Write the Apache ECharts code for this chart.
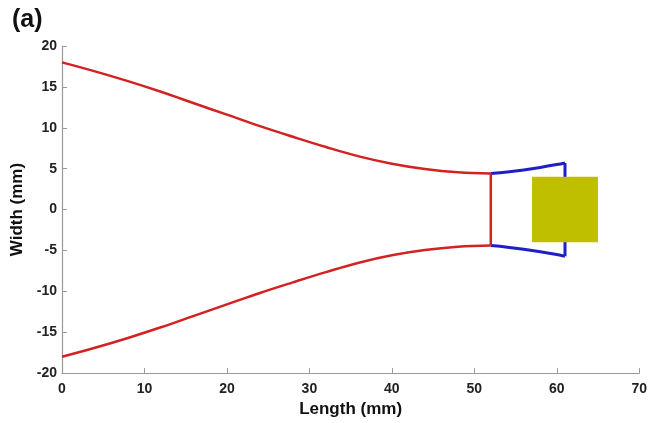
<!DOCTYPE html>
<html>
<head>
<meta charset="utf-8">
<script src="https://cdn.jsdelivr.net/npm/echarts@6/dist/echarts.min.js"></script>
<style>html,body{margin:0;padding:0;background:#fff}#c{width:650px;height:423px}</style>
</head>
<body>
<div id="c"></div>
<script>
// Horn profile (red) upper edge
const hornX = [0, 4, 8, 12, 16, 20, 24, 28, 32, 36, 40, 44, 48, 52];
const hornY = [18, 16.9, 15.7, 14.4, 13.0, 11.6, 10.2, 8.9, 7.65, 6.5, 5.6, 4.95, 4.55, 4.4];
// Flare section (blue) upper edge
const flareX = [52, 54, 56, 58, 60, 61];
const flareY = [4.4, 4.6, 4.85, 5.15, 5.5, 5.7];
// Sample block (yellow)
const blockX = [57, 65];
const blockY = [-4, 4];
const xTicks = [0, 10, 20, 30, 40, 50, 60, 70];
const yTicks = [-20, -15, -10, -5, 0, 5, 10, 15, 20];

const upper = hornX.map((x, i) => [x, hornY[i]]);
const lower = hornX.map((x, i) => [x, -hornY[i]]);
const fUp = flareX.map((x, i) => [x, flareY[i]]);
const fLo = flareX.map((x, i) => [x, -flareY[i]]);
const last = hornX.length - 1;
const fl = flareX.length - 1;

const red = '#d22222', blue = '#1f1fc8';
const FF = 'Liberation Sans, Arial, sans-serif';
const chart = echarts.init(document.getElementById('c'));
const labelStyle = { color: '#222', fontWeight: 'bold', fontSize: 14, fontFamily: FF };
chart.setOption({
  animation: false,
  title: { text: '(a)', left: 7, top: 3, textStyle: { fontSize: 25, fontWeight: 'bold', color: '#111', fontFamily: FF } },
  grid: { left: 62, right: 10, top: 46, bottom: 44, containLabel: false },
  xAxis: {
    type: 'value', min: xTicks[0], max: xTicks[xTicks.length - 1], interval: 10,
    name: 'Length (mm)', nameLocation: 'middle', nameGap: 26,
    nameTextStyle: { fontSize: 17, fontWeight: 'bold', color: '#111', fontFamily: FF },
    axisLine: { onZero: false, lineStyle: { color: '#999', width: 1.2 } },
    axisTick: { inside: true, length: 5, lineStyle: { color: '#999' } },
    axisLabel: Object.assign({ margin: 9 }, labelStyle),
    splitLine: { show: false }
  },
  yAxis: {
    type: 'value', min: yTicks[0], max: yTicks[yTicks.length - 1], interval: 5,
    name: 'Width (mm)', nameLocation: 'middle', nameGap: 34,
    nameTextStyle: { fontSize: 17, fontWeight: 'bold', color: '#111', fontFamily: FF },
    axisLine: { show: true, onZero: false, lineStyle: { color: '#999', width: 1.2 } },
    axisTick: { show: true, inside: true, length: 5, lineStyle: { color: '#999' } },
    axisLabel: Object.assign({ margin: 5 }, labelStyle),
    splitLine: { show: false }
  },
  series: [
    { type: 'line', data: fUp, smooth: 0.4, showSymbol: false, lineStyle: { color: blue, width: 3 }, z: 2 },
    { type: 'line', data: fLo, smooth: 0.4, showSymbol: false, lineStyle: { color: blue, width: 3 }, z: 2 },
    { type: 'line', data: [fUp[fl], fLo[fl]], showSymbol: false, lineStyle: { color: blue, width: 3 }, z: 2 },
    { type: 'line', data: upper, smooth: 0.4, showSymbol: false, lineStyle: { color: red, width: 2.5 }, z: 3 },
    { type: 'line', data: lower, smooth: 0.4, showSymbol: false, lineStyle: { color: red, width: 2.5 }, z: 3 },
    { type: 'line', data: [upper[last], lower[last]], showSymbol: false, lineStyle: { color: red, width: 2.5 }, z: 3 },
    { type: 'custom', z: 10, silent: true,
      data: [[blockX[0], blockY[0], blockX[1], blockY[1]]],
      renderItem: function (params, api) {
        const p0 = api.coord([api.value(0), api.value(3)]);
        const p1 = api.coord([api.value(2), api.value(1)]);
        return { type: 'rect', shape: { x: p0[0], y: p0[1], width: p1[0] - p0[0], height: p1[1] - p0[1] },
          style: { fill: '#bfbf00' } };
      } }
  ]
});
</script>
</body>
</html>
